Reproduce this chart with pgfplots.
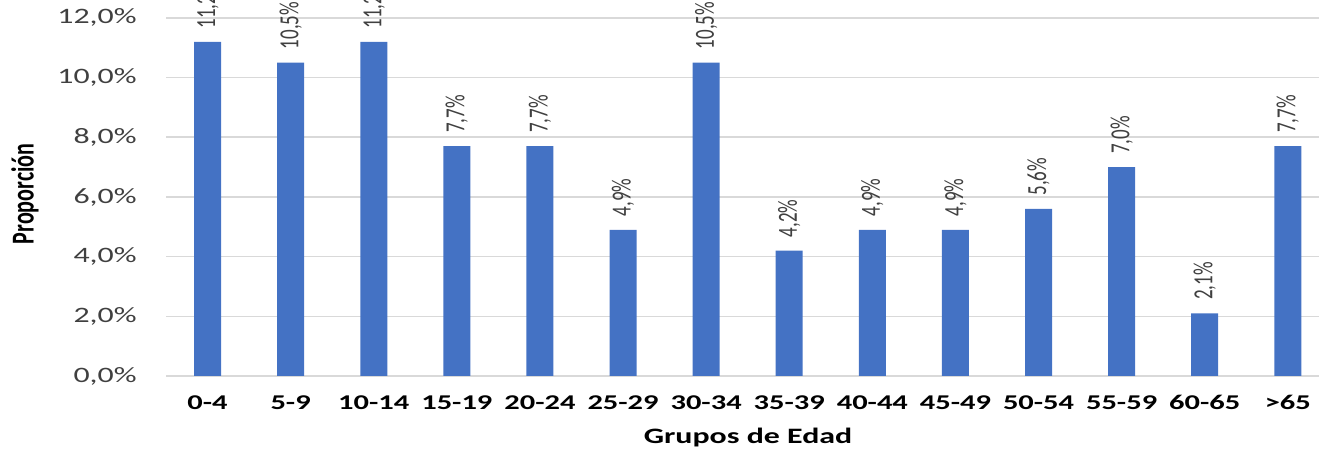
\documentclass[border=0pt]{standalone}
\usepackage{pgfplots}
\pgfplotsset{compat=1.18}
\usepackage{fontspec}
\setmainfont{Carlito}
% the reference is stretched sideways, so the fonts are too
\newfontfamily\hfont[FakeStretch=1.45]{Carlito}
\newfontfamily\vfont[FakeStretch=0.69]{Carlito}

\definecolor{barblue}{HTML}{4472C4}
\definecolor{gridgray}{HTML}{D9D9D9}
\definecolor{txtgray}{HTML}{404040}

\begin{document}
\begin{tikzpicture}
  \begin{axis}[
    at={(83pt,36.5pt)}, anchor=south west,
    scale only axis,
    width=576.5pt, height=188pt,
    xmin=-0.5, xmax=13.375,
    ymin=0, ymax=12.6,
    ybar, bar width=13.5pt,
    axis line style={draw=none},
    major tick length=0pt,
    ytick={0,2,4,6,8,10,12},
    ymajorgrids,
    grid style={gridgray, line width=0.8pt},
    xtick={0,...,13},
    xticklabels={0-4,5-9,10-14,15-19,20-24,25-29,30-34,35-39,40-44,45-49,50-54,55-59,60-65,>65},
    xticklabel style={font=\hfont\bfseries\fontsize{10.5}{12}\selectfont, anchor=north, inner sep=0pt, yshift=-9.5pt},
    yticklabel style={font=\hfont\fontsize{11}{13}\selectfont, text=txtgray, anchor=east, inner sep=0pt, xshift=-14.5pt},
    yticklabel={\pgfmathprintnumber[fixed, fixed zerofill, precision=1, use comma]{\tick}\%},
    /pgf/number format/assume math mode=true,
    nodes near coords={\pgfmathprintnumber[fixed, fixed zerofill, precision=1, use comma]{\pgfplotspointmeta}\%},
    every node near coord/.append style={font=\vfont\fontsize{13.8}{15}\selectfont, text=txtgray, rotate=90, anchor=west, inner xsep=6.5pt, inner ysep=0pt},
    clip=false,
  ]
    \addplot[fill=barblue, draw=none] coordinates {
      (0, 11.2)
      (1, 10.5)
      (2, 11.2)
      (3, 7.7)
      (4, 7.7)
      (5, 4.9)
      (6, 10.5)
      (7, 4.2)
      (8, 4.9)
      (9, 4.9)
      (10, 5.6)
      (11, 7.0)
      (12, 2.1)
      (13, 7.7)
    };
  \end{axis}
  \node[font=\hfont\bfseries\fontsize{11}{13}\selectfont, anchor=base] at (374pt,2.5pt) {Grupos de Edad};
  \node[font=\vfont\bfseries\fontsize{15.95}{17}\selectfont, rotate=90] at (12.5pt,127.5pt) {Proporción};
  \pgfresetboundingbox
  \useasboundingbox (0,0) rectangle (659.5pt,224.5pt);
\end{tikzpicture}
\end{document}
